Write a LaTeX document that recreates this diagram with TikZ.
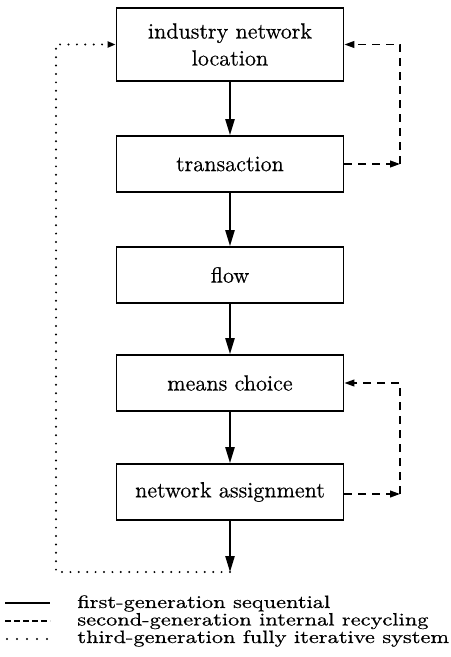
\documentclass[tikz,border=0pt]{standalone}
\usepackage{fontspec}
\usepackage{tikz}
\usetikzlibrary{arrows.meta, positioning}

\newfontfamily\stagefont{Latin Modern Roman}[FakeBold=0.4]
\newfontfamily\keyfont{Latin Modern Roman}[FakeStretch=1.21, FakeBold=0.4]

\begin{document}
\begin{tikzpicture}[
            x=0.5pt, y=-0.5pt,
            stage/.style={rectangle, draw, line width=0.9pt, minimum width=113.5pt, minimum height=28pt, align=center, font=\stagefont\fontsize{11}{13.5}\selectfont},
            flowarrow/.style={-{Triangle[length=8pt,width=4.6pt]}, line width=0.9pt},
            recycle/.style={line width=0.8pt, dash pattern=on 4pt off 3pt},
            recyclearrow/.style={recycle, -{Triangle[length=5pt,width=3.4pt]}},
            iterate/.style={line width=1.1pt, line cap=round, dash pattern=on 0pt off 4.2pt},
            iteratearrow/.style={iterate, -{Triangle[length=4pt,width=3pt]}},
            legtext/.style={anchor=west, align=left, font=\keyfont\fontsize{9}{8.75}\selectfont, inner sep=0pt}
        ]
            \useasboundingbox (0,0) rectangle (450,657);

            % the five model stages
            \node[stage, minimum height=36.5pt] (loc)    at (230,44.5) {industry network\\location};
            \node[stage] (trans)  at (230,164) {transaction};
            \node[stage] (flow)   at (230,275) {flow};
            \node[stage] (means)  at (230,383) {means choice};
            \node[stage] (assign) at (230,492) {network assignment};

            \coordinate (out)     at (230,572);
            \coordinate (upright) at (400,164);
            \coordinate (loright) at (400,494);
            \coordinate (bottomleft) at (56,572);

            % first generation: straight sequence
            \draw[flowarrow] (loc)    -- (trans);
            \draw[flowarrow] (trans)  -- (flow);
            \draw[flowarrow] (flow)   -- (means);
            \draw[flowarrow] (means)  -- (assign);
            \draw[flowarrow] (assign) -- (out);

            % second generation: internal loops
            \draw[recyclearrow] (trans.east) -- (upright);
            \draw[recyclearrow] (upright) |- (loc.east);
            \draw[recyclearrow] (assign.east |- loright) -- (loright);
            \draw[recyclearrow] (loright) |- (means.east);

            % third generation: back to the top
            \draw[iteratearrow] (out) -- (bottomleft) |- (loc.west);

            % key
            \node[legtext] (key) at (77,621) {first-generation sequential\\second-generation internal recycling\\third-generation fully iterative system};
            \draw[line width=0.9pt] (5,603) -- (50,603);
            \draw[recycle, dash pattern=on 2.8pt off 1.7pt] (5,621) -- (50,621);
            \draw[iterate, dash pattern=on 0pt off 5pt] (7,639) -- (49,639);
        \end{tikzpicture}
\end{document}
